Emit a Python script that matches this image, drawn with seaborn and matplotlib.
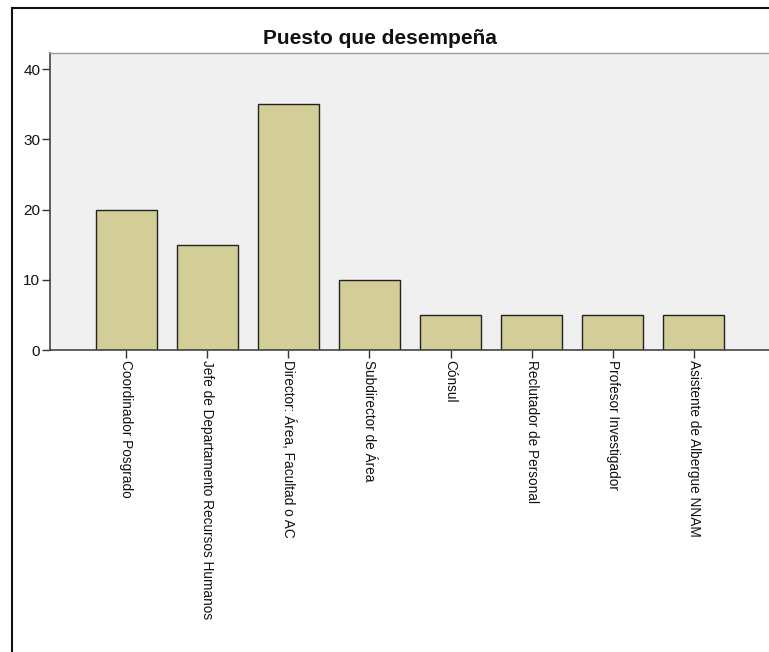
import matplotlib
matplotlib.use('Agg')
import matplotlib.pyplot as plt
import matplotlib.patches as mpatches
import pandas as pd
import seaborn as sns

# --------------------------------------------------
puestos = [
    'Coordinador Posgrado',
    'Jefe de Departamento Recursos Humanos',
    'Director: Área, Facultad o AC',
    'Subdirector de Área',
    'Cónsul',
    'Reclutador de Personal',
    'Profesor Investigador',
    'Asistente de Albergue NNAM',
]
porcentajes = [20, 15, 35, 10, 5, 5, 5, 5]
y_ticks = [0, 10, 20, 30, 40]

df = pd.DataFrame({'puesto': puestos, 'pct': porcentajes})

sns.set_style('white')
plt.rcParams['font.family'] = ['Liberation Sans', 'DejaVu Sans']

fig = plt.figure(figsize=(7.69, 6.52), dpi=100)
ax = fig.add_axes([50 / 769, 1 - 350 / 652, 720 / 769, 297 / 652])
ax.set_facecolor('#f0f0f0')

sns.barplot(data=df, x='puesto', y='pct', color='#d3ce97', edgecolor='#222222',
            linewidth=1.0, width=0.75, saturation=1, ax=ax)

ax.set_xlim(-0.944, 7.944)
ax.set_ylim(0, 42.3)
ax.set_yticks(y_ticks)
ax.set_xlabel('')
ax.set_ylabel('')
ax.tick_params(axis='both', direction='out', length=6, width=1, color='#333333',
               labelcolor='#111111', left=True, bottom=True, pad=1)
ax.tick_params(axis='x', labelsize=9.8)
ax.tick_params(axis='y', labelsize=11)
for lbl in ax.get_xticklabels():
    lbl.set_rotation(270)
    lbl.set_va('top')
    lbl.set_ha('center')

for side in ['left', 'bottom']:
    ax.spines[side].set_color('#444444')
    ax.spines[side].set_linewidth(1.2)
ax.spines['top'].set_color('#999999')
ax.spines['top'].set_linewidth(1.0)
ax.spines['right'].set_visible(False)

fig.text(380 / 769, 1 - 39 / 652, 'Puesto que desempeña', ha='center',
         va='center', fontsize=15, fontweight='bold', color='#111111')

# outer frame, cut off at right and bottom like the reference
frame = mpatches.Rectangle((12 / 769, -0.1), 1.2, 1.1 - 8 / 652,
                           transform=fig.transFigure, fill=False,
                           edgecolor='#111111', linewidth=1.5)
fig.patches.append(frame)

fig.savefig('out.png', dpi=100)
